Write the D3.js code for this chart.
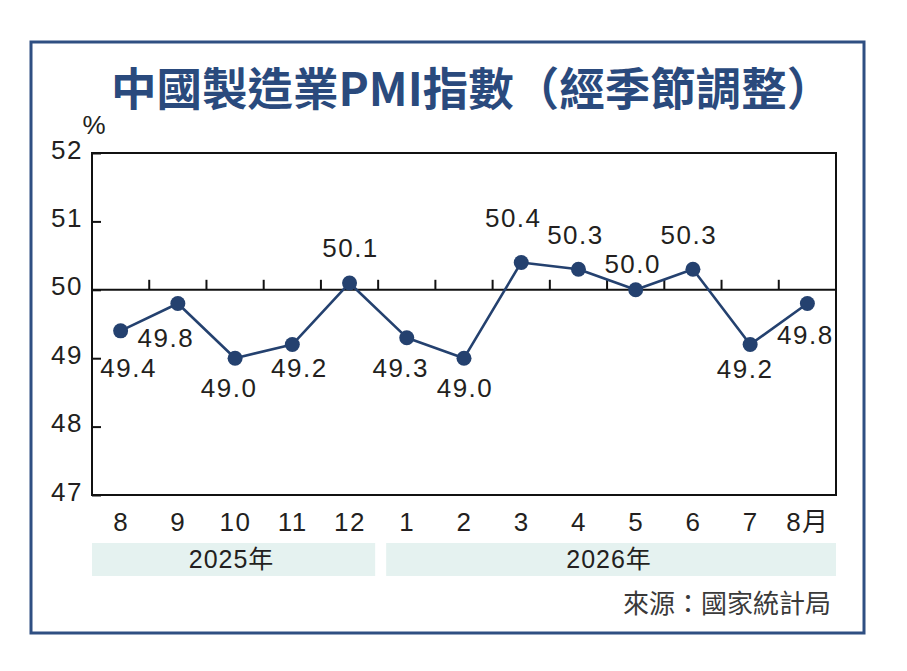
<!DOCTYPE html>
<html>
<head>
<meta charset="utf-8">
<script src="https://cdn.jsdelivr.net/npm/d3@7"></script>
<style>
  html, body { margin: 0; padding: 0; background: #fff; }
  svg { display: block; }
</style>
</head>
<body>
<div id="chart"></div>
<script>
// months on the x axis
var months = ['8', '9', '10', '11', '12', '1', '2', '3', '4', '5', '6', '7', '8月'];
var pmi = [49.4, 49.8, 49.0, 49.2, 50.1, 49.3, 49.0, 50.4, 50.3, 50.0, 50.3, 49.2, 49.8];
var yTicks = [47, 48, 49, 50, 51, 52];
var years = [
  { label: '2025年', from: 0, to: 4 },
  { label: '2026年', from: 5, to: 12 }
];

// where each value label sits relative to its dot (layout only)
var labelOffset = [
  [8, 46], [-12, 44], [-6, 39], [7, 32], [1, -26], [-6, 39], [1, 39],
  [-8, -35], [-3, -25], [-3, -17], [-4, -25], [-5, 33], [-2, 41]
];

var W = 907, H = 671;
var NAVY = '#24416f', FRAME = '#2f4f82', TXT = '#231f20';
var NUM = '"Liberation Sans", Arial, Helvetica, sans-serif';
var CJK = '"Liberation Sans", "Noto Sans CJK TC", sans-serif';

var svg = d3.select('#chart').append('svg')
  .attr('width', W).attr('height', H);

/* outer frame */
svg.append('rect')
  .attr('x', 31).attr('y', 42).attr('width', 833).attr('height', 591)
  .attr('fill', 'none').attr('stroke', FRAME).attr('stroke-width', 3);

/* title */
svg.append('text')
  .attr('x', 111).attr('y', 106)
  .attr('font-family', '"Noto Sans CJK TC", sans-serif')
  .attr('font-weight', 'bold').attr('font-size', 45.5)
  .attr('fill', '#2a4a7d')
  .text('中國製造業PMI指數（經季節調整）');

var m = { left: 92, right: 836, top: 153, bottom: 495 };

var x = d3.scalePoint().domain(d3.range(months.length))
  .range([m.left, m.right]).padding(0.5);
var step = x.step();
var y = d3.scaleLinear().domain([47, 52]).range([m.bottom, m.top]);

/* plot box */
svg.append('rect')
  .attr('x', m.left).attr('y', m.top)
  .attr('width', m.right - m.left).attr('height', m.bottom - m.top)
  .attr('fill', 'none').attr('stroke', '#111').attr('stroke-width', 2);

/* y axis: inward ticks, labels on the left */
var yAxis = d3.axisLeft(y).tickValues(yTicks).tickFormat(d3.format('d'))
  .tickSize(-9).tickPadding(19);
var gy = svg.append('g').attr('transform', 'translate(' + m.left + ',0)').call(yAxis);
gy.select('.domain').remove();
gy.selectAll('line').attr('stroke', '#111').attr('stroke-width', 2);
gy.selectAll('text')
  .attr('font-family', NUM).attr('font-size', 26).attr('fill', TXT)
  .attr('letter-spacing', 1.5)
  .attr('dy', null).attr('y', 5)
  .attr('x', -9);

svg.append('text')
  .attr('x', 94).attr('y', 134).attr('text-anchor', 'middle')
  .attr('font-family', NUM).attr('font-size', 26).attr('fill', TXT)
  .text('%');

/* 50 reference line with month-boundary ticks */
svg.append('line')
  .attr('x1', m.left).attr('x2', m.right)
  .attr('y1', y(50)).attr('y2', y(50))
  .attr('stroke', '#111').attr('stroke-width', 2);
svg.append('g').selectAll('line')
  .data(d3.range(1, months.length))
  .join('line')
  .attr('x1', function (i) { return x(i) - step / 2; })
  .attr('x2', function (i) { return x(i) - step / 2; })
  .attr('y1', y(50)).attr('y2', y(50) - 10)
  .attr('stroke', '#111').attr('stroke-width', 2);

/* x axis month labels */
var xAxis = d3.axisBottom(x).tickSize(0).tickPadding(0)
  .tickFormat(function (i) { return months[i]; });
var gx = svg.append('g').attr('transform', 'translate(0,' + m.bottom + ')').call(xAxis);
gx.select('.domain').remove();
gx.selectAll('text')
  .attr('font-family', CJK).attr('font-size', 26).attr('fill', TXT)
  .attr('dy', null).attr('y', 36)
  .attr('letter-spacing', 1.5);

/* year bands */
function bandX0(d) { return d.from === 0 ? m.left : x(d.from) - step / 2 + 8; }
function bandX1(d) { return d.to === months.length - 1 ? m.right : x(d.to) + step / 2 - 3; }
var yb = svg.append('g');
yb.selectAll('rect').data(years).join('rect')
  .attr('x', bandX0)
  .attr('width', function (d) { return bandX1(d) - bandX0(d); })
  .attr('y', 543).attr('height', 33)
  .attr('fill', '#e5f2f0');
yb.selectAll('text').data(years).join('text')
  .attr('x', function (d) { return (bandX0(d) + bandX1(d)) / 2 - 2; })
  .attr('y', 568).attr('text-anchor', 'middle')
  .attr('font-family', CJK).attr('font-size', 25).attr('fill', TXT)
  .attr('letter-spacing', 1)
  .text(function (d) { return d.label; });

/* line + dots */
var line = d3.line()
  .x(function (d, i) { return x(i); })
  .y(function (d) { return y(d); });
svg.append('path').datum(pmi)
  .attr('d', line).attr('fill', 'none')
  .attr('stroke', NAVY).attr('stroke-width', 2.6)
  .attr('stroke-linejoin', 'round');
svg.append('g').selectAll('circle').data(pmi).join('circle')
  .attr('cx', function (d, i) { return x(i); })
  .attr('cy', function (d) { return y(d); })
  .attr('r', 7.5).attr('fill', NAVY);

/* value labels */
svg.append('g').selectAll('text').data(pmi).join('text')
  .attr('x', function (d, i) { return x(i) + labelOffset[i][0]; })
  .attr('y', function (d, i) { return y(d) + labelOffset[i][1]; })
  .attr('text-anchor', 'middle')
  .attr('font-family', NUM).attr('font-size', 26).attr('fill', TXT)
  .attr('letter-spacing', 1.5)
  .text(function (d) { return d3.format('.1f')(d); });

/* source */
svg.append('text')
  .attr('x', 831).attr('y', 613).attr('text-anchor', 'end')
  .attr('font-family', '"Noto Sans CJK TC", sans-serif')
  .attr('font-size', 26).attr('fill', '#3a3a3a')
  .text('來源：國家統計局');
</script>
</body>
</html>
